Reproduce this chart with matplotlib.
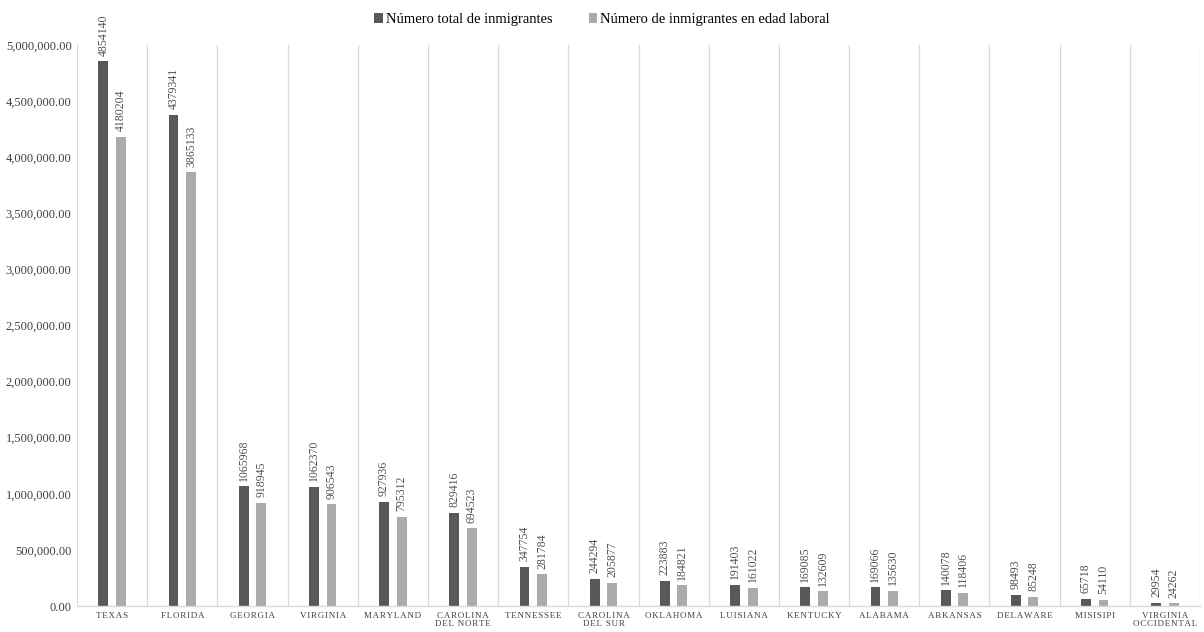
import matplotlib
matplotlib.use("Agg")
import matplotlib.pyplot as plt
from matplotlib.ticker import FuncFormatter, MultipleLocator
import numpy as np

states = ["TEXAS", "FLORIDA", "GEORGIA", "VIRGINIA", "MARYLAND", "CAROLINA\nDEL NORTE",
          "TENNESSEE", "CAROLINA\nDEL SUR", "OKLAHOMA", "LUISIANA", "KENTUCKY", "ALABAMA",
          "ARKANSAS", "DELAWARE", "MISISIPI", "VIRGINIA\nOCCIDENTAL"]
total = [4854140, 4379341, 1065968, 1062370, 927936, 829416, 347754, 244294, 223883,
         191403, 169085, 169066, 140078, 98493, 65718, 29954]
working_age = [4180204, 3865133, 918945, 906543, 795312, 694523, 281784, 205877, 184821,
               161022, 132609, 135630, 118406, 85248, 54110, 24262]
series_names = ["Número total de inmigrantes", "Número de inmigrantes en edad laboral"]

plt.rcParams['font.family'] = ['Liberation Serif', 'DejaVu Serif']

fig = plt.figure(figsize=(12.04, 6.32), dpi=100)
ax = fig.add_axes([0.064, 0.041, 0.9327, 0.888])

x = np.arange(len(states))
w = 0.14
off = 0.125
c1, c2 = "#595959", "#ababab"
b1 = ax.bar(x - off, total, w, color=c1, label=series_names[0])
b2 = ax.bar(x + off, working_age, w, color=c2, label=series_names[1])

for bars, vals in ((b1, total), (b2, working_age)):
    for r, v in zip(bars, vals):
        ax.annotate(str(v), (r.get_x() + r.get_width() / 2, r.get_height()),
                    xytext=(0, 4), textcoords="offset points", rotation=90,
                    ha="center", va="bottom", fontsize=8.5, color="#505050")

ax.set_xlim(-0.5, len(states) - 0.5)
ax.set_ylim(0, 5000000)
ax.yaxis.set_major_locator(MultipleLocator(500000))
ax.yaxis.set_major_formatter(FuncFormatter(lambda v, p: f"{v:,.2f}"))

for b in np.arange(-0.5, len(states), 1.0):
    ax.axvline(b, color="#d9d9d9", lw=0.9, zorder=0)

for s in ["top", "right", "left"]:
    ax.spines[s].set_visible(False)
ax.spines["bottom"].set_color("#d9d9d9")
ax.spines["bottom"].set_linewidth(1.0)

spaced = ["\n".join("\u200a".join(line) for line in s.split("\n")) for s in states]
ax.set_xticks(x)
ax.set_xticklabels(spaced, fontsize=6.5, color="#404040", linespacing=1.05)
ax.tick_params(axis="x", length=0, pad=4)
ax.tick_params(axis="y", length=0, labelsize=9, colors="#404040", pad=4)

fig.legend(handles=[b1, b2], labels=series_names, loc="upper center",
           bbox_to_anchor=(0.5, 1.0), ncol=2, frameon=False, fontsize=10.5,
           handlelength=0.6, handleheight=0.6, handletextpad=0.2, columnspacing=2.5)

fig.savefig("out.png", dpi=100, facecolor="white")
